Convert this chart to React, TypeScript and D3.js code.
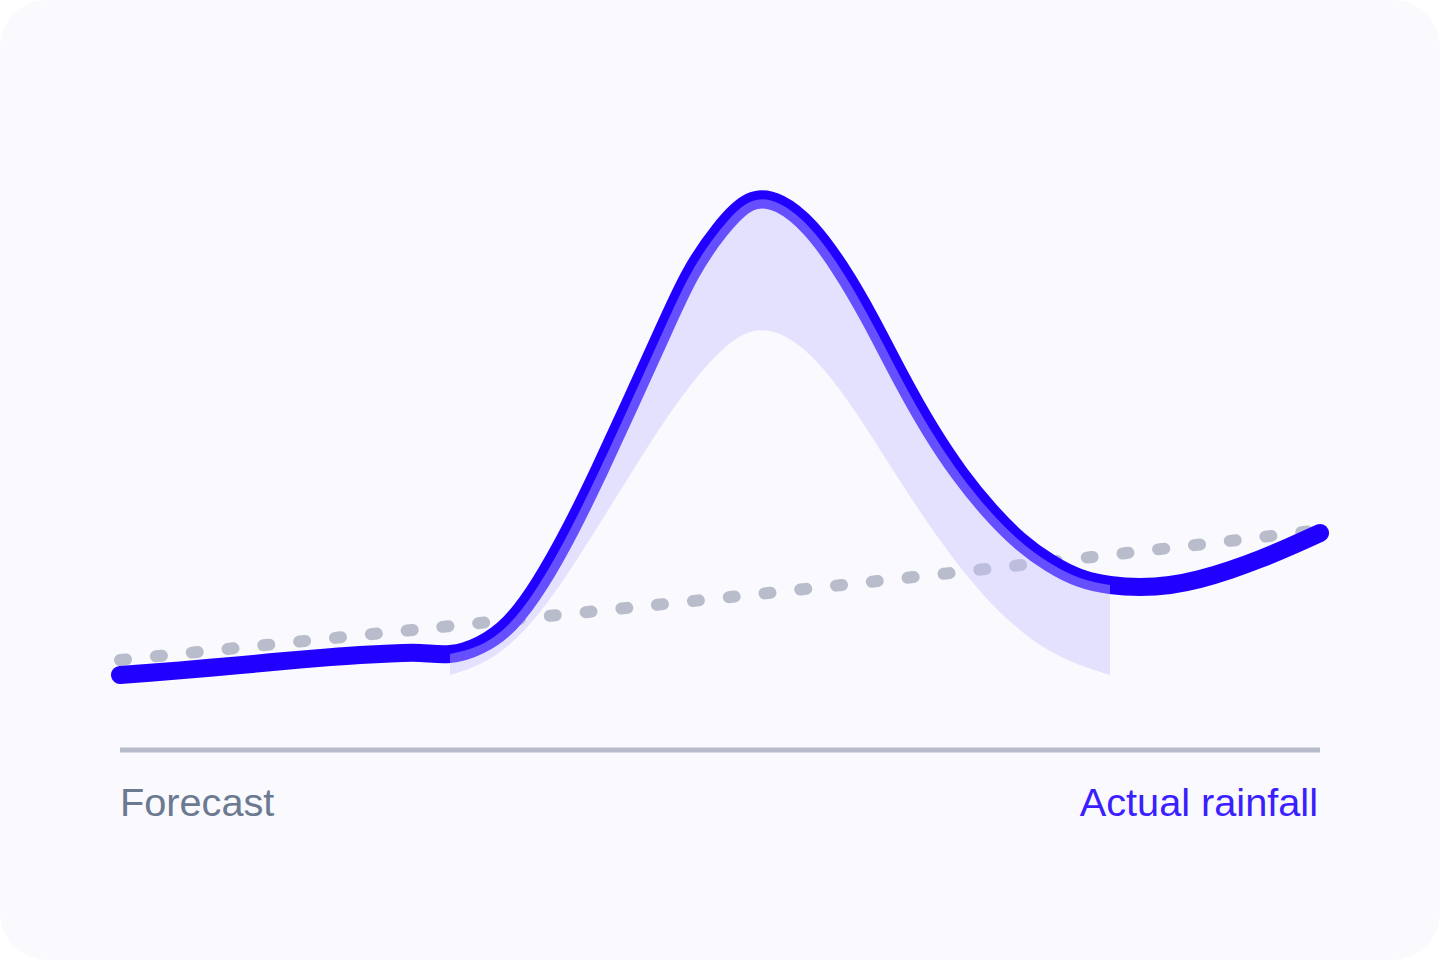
import React from 'react';
import { scaleLinear, line, area, curveNatural, range } from 'd3';

// hourly readings over 40 hours, rainfall in mm
const hours = range(0, 41);
const actual = [
  7.5, 7.72, 7.96, 8.22, 8.49, 8.77, 9.04, 9.29, 9.5, 9.65,
  9.7, 9.6, 10.5, 12.7, 16.7, 22.0, 28.1, 34.6, 41.2, 47.5,
  52.0, 54.8, 54.6, 52.2, 48.2, 43.1, 37.4, 32.1, 27.6, 23.9,
  20.9, 18.7, 17.2, 16.5, 16.3, 16.5, 17.1, 18.0, 19.1, 20.35,
  21.7,
];
// lower bound of the forecast range, only for the hours it was issued (11..33)
const lower = [
  null, null, null, null, null, null, null, null, null, null,
  null, 7.5, 8.6, 10.6, 13.8, 18.0, 22.7, 27.5, 32.2, 36.4,
  39.8, 41.8, 41.6, 39.5, 36.0, 31.6, 26.9, 22.4, 18.3, 14.8,
  12.0, 9.9, 8.5, 7.5, null, null, null, null, null, null,
  null,
];
const forecastHours = [0, 12, 21.6, 32.4, 40];
const forecast = [9.0, 12.7, 15.7, 19.3, 22.0];

const labelLeft = 'Forecast';
const labelRight = 'Actual rainfall';

const W = 1440;
const H = 960;

type Pt = { t: number; v: number; lo: number | null };

export default function App() {
  const x = scaleLinear().domain([0, 40]).range([120, 1320]);
  const y = scaleLinear().domain([0, 60]).range([750, 150]);

  const pts: Pt[] = hours.map((t, i) => ({ t, v: actual[i], lo: lower[i] }));
  const forecastPts = forecastHours.map((t, i) => ({ t, v: forecast[i] }));

  const lineGen = line<{ t: number; v: number }>()
    .x(d => x(d.t))
    .y(d => y(d.v))
    .curve(curveNatural);

  const bandGen = area<Pt>()
    .defined(d => d.lo !== null)
    .x(d => x(d.t))
    .y0(d => y(d.lo as number))
    .y1(d => y(d.v))
    .curve(curveNatural);

  const font = '"Liberation Sans", Arial, Helvetica, sans-serif';

  return (
    <svg
      width={W}
      height={H}
      viewBox={`0 0 ${W} ${H}`}
      style={{ position: 'absolute', left: 0, top: 0, display: 'block' }}
    >
      <rect x={0} y={0} width={W} height={H} fill="#ffffff" />
      <rect x={0} y={0} width={W} height={H} rx={48} ry={48} fill="#f9f9fe" />

      <path
        d={lineGen(forecastPts) || ''}
        fill="none"
        stroke="#b8bccb"
        strokeWidth={12}
        strokeLinecap="round"
        strokeDasharray="6 30"
      />
      <path
        d={lineGen(pts) || ''}
        fill="none"
        stroke="#2200ff"
        strokeWidth={18}
        strokeLinecap="round"
        strokeLinejoin="round"
      />
      <path d={bandGen(pts) || ''} fill="#c4c1ff" fillOpacity={0.41} />

      <line x1={x(0)} x2={x(40)} y1={y(0)} y2={y(0)} stroke="#b6bacb" strokeWidth={5} />

      <text x={x(0)} y={816} fontFamily={font} fontSize={39.7} fill="#6b7a90">
        {labelLeft}
      </text>
      <text x={x(40) - 2} y={816} fontFamily={font} fontSize={39.7} fill="#3b20ff" textAnchor="end">
        {labelRight}
      </text>
    </svg>
  );
}
